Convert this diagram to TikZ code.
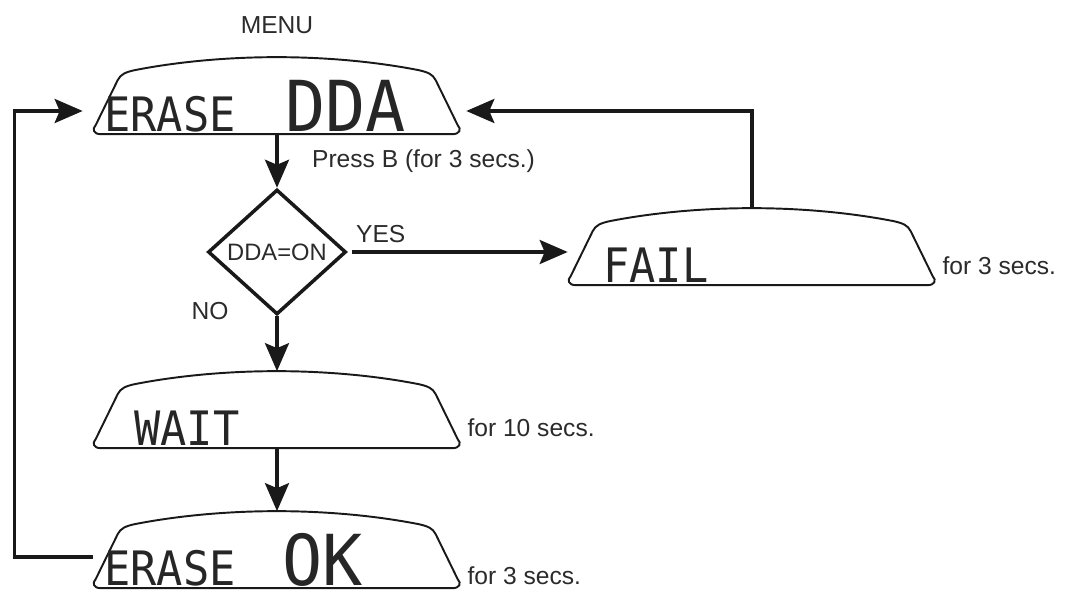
\documentclass[tikz,border=0pt]{standalone}
\usepackage{graphicx}
\usepackage{fontspec}
\setmainfont{Liberation Sans}
\newfontfamily\lcdfont{DejaVu Sans Mono}
\usepackage{tikz}
\usetikzlibrary{arrows.meta,positioning,calc,shapes.geometric}
\definecolor{inkgray}{HTML}{2B2B2B}

% outline of one lcd window, drawn round a named node (px units, y down)
\newcommand{\lcdframe}[1]{%
  \draw[frame, shift={(#1.north west)}]
    (8,77) -- (360,77) .. controls (367,77) and (369,72) .. (365,68)
    -- (343,23) .. controls (340,17) and (335,15) .. (326,13)
    .. controls (280,4) and (230,0) .. (184,0)
    .. controls (138,0) and (88,4) .. (42,13)
    .. controls (33,15) and (28,17) .. (25,23)
    -- (3,68) .. controls (-1,72) and (1,77) .. (8,77) -- cycle;}
\newcommand{\lcdsmall}[1]{\scalebox{0.92}[1]{\fontsize{27}{27}\lcdfont #1}}
\newcommand{\lcdbig}[1]{\scalebox{0.95}[1]{\fontsize{40}{40}\lcdfont #1}}

\begin{document}
\begin{tikzpicture}[x=0.02cm, y=-0.02cm,
  lcd/.style={minimum width=7.36cm, minimum height=1.54cm, inner sep=0pt},
  frame/.style={line width=1.1pt, black!90, line join=round},
  lcdtext/.style={inner sep=0pt, anchor=base west, text=black!85},
  lbl/.style={font=\fontsize{14}{16}\selectfont, text=inkgray},
  decision/.style={diamond, draw, line width=2pt, black!90, minimum width=2.76cm, minimum height=2.5cm, inner sep=0pt, font=\fontsize{13.5}{16}\selectfont, text=inkgray},
  arr/.style={-{Stealth[length=0.56cm, width=0.48cm, inset=0.1cm]}, line width=2pt, black!90}
]
  \useasboundingbox (0,0) rectangle (1068,601);

  % displays
  \node[lcd] (dda) at (277,96) {};
  \node[lcd] (fail) at (752,247) {};
  \node[lcd] (wait) at (277,410) {};
  \node[lcd] (ok) at (277,550) {};
  \lcdframe{dda}
  \lcdframe{fail}
  \lcdframe{wait}
  \lcdframe{ok}

  \node[lcdtext] (ddaerase) at (104,132) {\lcdsmall{ERASE}};
  \node[lcdtext] (ddaname) at (285,132) {\lcdbig{DDA}};
  \node[lcdtext] (failtext) at (603,282) {\lcdsmall{FAIL}};
  \node[lcdtext] (waittext) at (134,445) {\lcdsmall{WAIT}};
  \node[lcdtext] (okerase) at (104,585) {\lcdsmall{ERASE}};
  \node[lcdtext] (okname) at (282,585) {\lcdbig{OK}};

  \node[decision] (ddaon) at (277,252) {DDA=ON};

  % labels
  \node[lbl, above=0.35cm of dda] (menu) {MENU};
  \node[lbl] (no) at (210,311) {NO};
  \node[lbl, anchor=base west] (failtime) at ([shift={(0,-11)}]fail.south east) {for 3 secs.};
  \node[lbl, anchor=base west] (waittime) at ([shift={(0,-12)}]wait.south east) {for 10 secs.};
  \node[lbl, anchor=base west] (oktime) at ([shift={(0,-4)}]ok.south east) {for 3 secs.};

  % connectors
  \draw[arr] (dda.south) -- node[lbl, right=0.55cm] (press) {Press B (for 3 secs.)} (ddaon.north);
  \draw[arr] (ddaon.south) -- (wait.north);
  \draw[arr] (wait.south) -- (ok.north);
  \draw[arr, shorten <=0.08cm] (ddaon.east) -- node[lbl, above=1pt, pos=0.15] (yes) {YES} (ddaon.east -| fail.west);
  \draw[arr] (fail.north) |- ([xshift=0.1cm, yshift=-0.3cm]dda.east);
  \draw[arr] ([yshift=-0.14cm]ok.west) -- ++(-78,0) |- ([xshift=-0.2cm, yshift=-0.3cm]dda.west);
\end{tikzpicture}
\end{document}
